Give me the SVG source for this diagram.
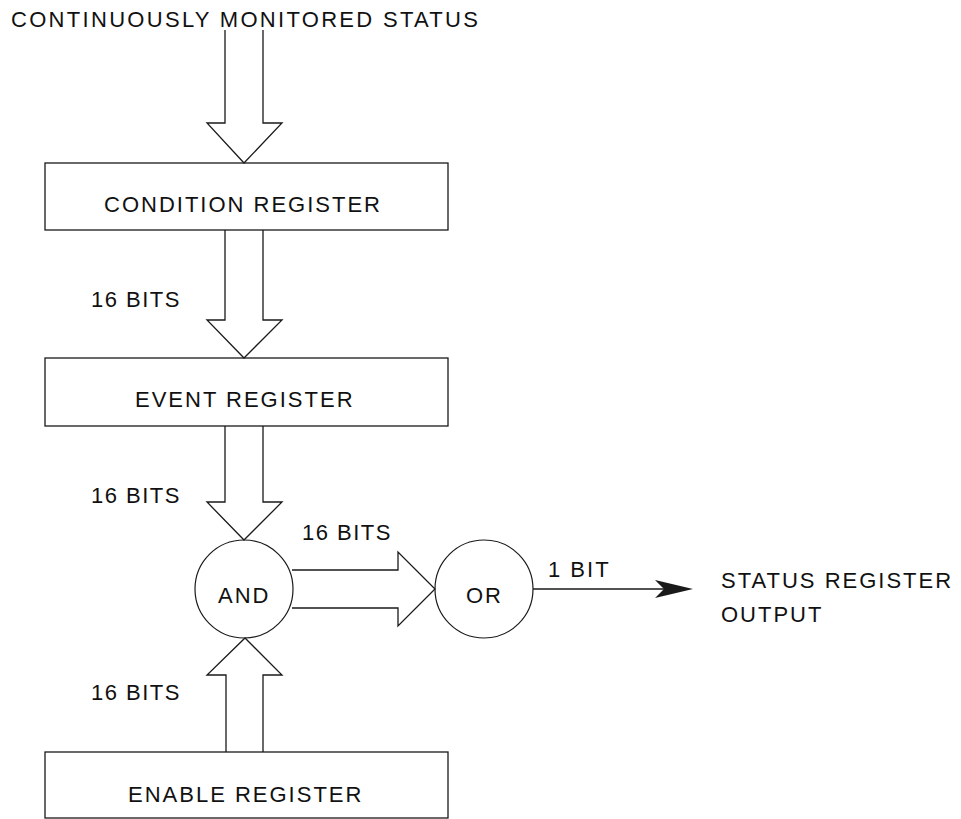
<svg xmlns="http://www.w3.org/2000/svg" width="961" height="819" viewBox="0 0 961 819">
  <style>
    .box { fill: #ffffff; stroke: #1a1a1a; stroke-width: 1.3; }
    .gate { fill: #ffffff; stroke: #1a1a1a; stroke-width: 1.2; }
    .bus { fill: none; stroke: #1a1a1a; stroke-width: 1.3; stroke-linejoin: miter; }
    .wire { fill: none; stroke: #1a1a1a; stroke-width: 1.3; }
    .head { fill: #1a1a1a; stroke: none; }
    text { font-family: "Liberation Sans", Arial, sans-serif; font-size: 22px; letter-spacing: 2px; fill: #111111; }
    .title { letter-spacing: 2.3px; }
    .bits { letter-spacing: 1.5px; }
  </style>
  <rect width="961" height="819" fill="#ffffff"/>

  <!-- input label -->
  <g id="input-label">
    <text class="title" x="11" y="27">CONTINUOUSLY MONITORED STATUS</text>
  </g>

  <!-- register blocks -->
  <g id="condition-register">
    <rect class="box" x="45" y="163" width="403" height="67"/>
    <text x="104" y="212">CONDITION REGISTER</text>
  </g>
  <g id="event-register">
    <rect class="box" x="45" y="358" width="403" height="68"/>
    <text x="135" y="407">EVENT REGISTER</text>
  </g>
  <g id="enable-register">
    <rect class="box" x="45" y="752" width="403" height="66"/>
    <text x="128" y="802">ENABLE REGISTER</text>
  </g>

  <!-- logic gates -->
  <g id="and-gate">
    <circle class="gate" cx="244" cy="589" r="49"/>
    <text x="218" y="603">AND</text>
  </g>
  <g id="or-gate">
    <circle class="gate" cx="484" cy="589" r="49"/>
    <text x="466" y="603">OR</text>
  </g>

  <!-- output label -->
  <g id="status-output">
    <text x="721" y="588">STATUS REGISTER</text>
    <text x="721" y="622">OUTPUT</text>
  </g>

  <!-- connectors: hollow bus arrows and the single-bit output line -->
  <g id="connectors">
    <polyline class="bus" points="225,30 225,123 207,123 244,163 282,123 263,123 263,30"/>
    <polyline class="bus" points="225,230 225,320 207,320 244,358 282,320 263,320 263,230"/>
    <polyline class="bus" points="225,426 225,502 207,502 244,540 282,502 263,502 263,426"/>
    <polyline class="bus" points="226,752 226,675 207,675 245,638 282,675 263,675 263,752"/>
    <polyline class="bus" points="292,570 398,570 398,552 435,589 398,626 398,608 292,608"/>
    <line class="wire" x1="533" y1="589" x2="670" y2="589"/>
    <polygon class="head" points="693,589 655,580 664,589 655,598"/>
    <text class="bits" x="91" y="307">16 BITS</text>
    <text class="bits" x="91" y="503">16 BITS</text>
    <text class="bits" x="91" y="700">16 BITS</text>
    <text class="bits" x="302" y="540">16 BITS</text>
    <text x="548" y="577">1 BIT</text>
  </g>
</svg>
